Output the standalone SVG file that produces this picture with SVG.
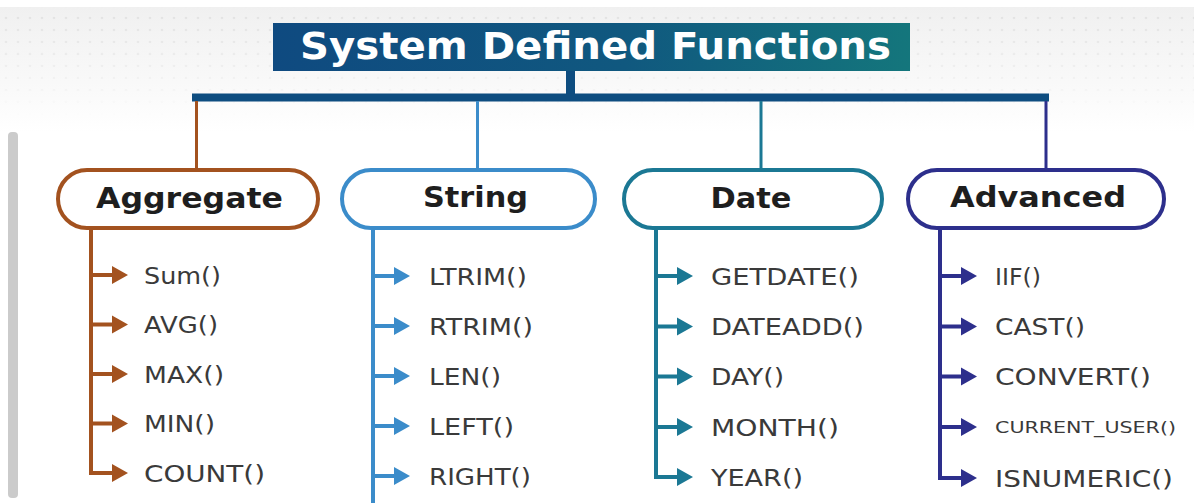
<svg xmlns="http://www.w3.org/2000/svg" width="1194" height="503" viewBox="0 0 1194 503">
  <defs>
    <linearGradient id="titleGrad" x1="0" y1="0" x2="1" y2="0">
      <stop offset="0" stop-color="#0f4a80"/>
      <stop offset="0.55" stop-color="#10587f"/>
      <stop offset="1" stop-color="#14767c"/>
    </linearGradient>
    <linearGradient id="bgGrad" x1="0" y1="0" x2="0" y2="1">
      <stop offset="0" stop-color="#f0f0f0"/>
      <stop offset="1" stop-color="#ffffff"/>
    </linearGradient>
    <pattern id="dots" x="0" y="0" width="12" height="12" patternUnits="userSpaceOnUse">
      <circle cx="6" cy="6" r="1.3" fill="#dcdcdc"/>
    </pattern>
    <linearGradient id="dotFade" x1="0" y1="0" x2="0" y2="1">
      <stop offset="0" stop-color="#fff" stop-opacity="1"/>
      <stop offset="1" stop-color="#fff" stop-opacity="0"/>
    </linearGradient>
    <mask id="dotMask">
      <rect x="0" y="7" width="1194" height="110" fill="url(#dotFade)"/>
    </mask>
  </defs>
  <style>
    .pill { fill: #ffffff; stroke-width: 4; }
    .plabel { font-family: "DejaVu Sans", "Liberation Sans", sans-serif; font-weight: bold; font-size: 29px; fill: #1e1e1e; text-anchor: middle; }
    .item { font-family: "DejaVu Sans", "Liberation Sans", sans-serif; font-size: 23px; fill: #3a3a3a; }
    .small { font-size: 16px; }
    .agg { stroke: #a3521f; fill: #a3521f; }
    .str { stroke: #3b8cca; fill: #3b8cca; }
    .dat { stroke: #1b7894; fill: #1b7894; }
    .adv { stroke: #2d2f8c; fill: #2d2f8c; }
    .line { fill: none; stroke-width: 4; stroke-linejoin: miter; }
    .stem { fill: none; stroke-width: 3; }
    .head { stroke: none; }
  </style>

  <!-- background -->
  <rect x="0" y="0" width="1194" height="503" fill="#ffffff"/>
  <rect x="0" y="7" width="1194" height="125" fill="url(#bgGrad)"/>
  <rect x="0" y="7" width="1194" height="110" fill="url(#dots)" mask="url(#dotMask)" opacity="0.7"/>
  <rect x="8" y="132" width="10" height="366" rx="4" fill="#cbcbcb"/>

  <!-- connectors -->
  <g id="connectors">
    <rect x="566" y="70" width="9" height="26" fill="#0e4d80"/>
    <rect x="192" y="93.5" width="857" height="8" fill="#0e4d80"/>
    <line class="stem agg" x1="196.5" y1="101" x2="196.5" y2="170"/>
    <line class="stem str" x1="477.5" y1="101" x2="477.5" y2="170"/>
    <line class="stem dat" x1="761" y1="101" x2="761" y2="170"/>
    <line class="stem adv" x1="1046" y1="101" x2="1046" y2="170"/>

    <!-- Aggregate -->
    <g class="agg">
      <path class="line" d="M91,228 V473 H114"/>
      <path class="line" d="M91,275 H114 M91,324.5 H114 M91,374 H114 M91,423.5 H114"/>
      <path class="head" d="M112,266 L128,275 L112,284 Z M112,315.5 L128,324.5 L112,333.5 Z M112,365 L128,374 L112,383 Z M112,414.5 L128,423.5 L112,432.5 Z M112,464 L128,473 L112,482 Z"/>
    </g>
    <!-- String -->
    <g class="str">
      <path class="line" d="M373,228 V503"/>
      <path class="line" d="M373,276 H396 M373,326 H396 M373,376 H396 M373,426 H396 M373,476 H396"/>
      <path class="head" d="M394,267 L410,276 L394,285 Z M394,317 L410,326 L394,335 Z M394,367 L410,376 L394,385 Z M394,417 L410,426 L394,435 Z M394,467 L410,476 L394,485 Z"/>
    </g>
    <!-- Date -->
    <g class="dat">
      <path class="line" d="M656,228 V477 H679"/>
      <path class="line" d="M656,276 H679 M656,326.5 H679 M656,376.5 H679 M656,427 H679"/>
      <path class="head" d="M677,267 L693,276 L677,285 Z M677,317.5 L693,326.5 L677,335.5 Z M677,367.5 L693,376.5 L677,385.5 Z M677,418 L693,427 L677,436 Z M677,468 L693,477 L677,486 Z"/>
    </g>
    <!-- Advanced -->
    <g class="adv">
      <path class="line" d="M940,228 V478 H963"/>
      <path class="line" d="M940,276 H963 M940,326.5 H963 M940,376.5 H963 M940,427 H963"/>
      <path class="head" d="M961,267 L977,276 L961,285 Z M961,317.5 L977,326.5 L961,335.5 Z M961,367.5 L977,376.5 L961,385.5 Z M961,418 L977,427 L961,436 Z M961,469 L977,478 L961,487 Z"/>
    </g>
  </g>

  <!-- title -->
  <g id="title">
    <rect x="273" y="23" width="637" height="48" fill="url(#titleGrad)"/>
    <text x="300" y="59" font-family="DejaVu Sans, Liberation Sans, sans-serif" font-weight="bold" font-size="37" fill="#ffffff" textLength="591" lengthAdjust="spacingAndGlyphs">System Defined Functions</text>
  </g>

  <!-- category nodes -->
  <g id="node-aggregate">
    <rect class="pill agg" x="58" y="170" width="260" height="58" rx="29" style="fill:#fff"/>
    <text class="plabel" x="189.5" y="208" textLength="187" lengthAdjust="spacingAndGlyphs">Aggregate</text>
  </g>
  <g id="node-string">
    <rect class="pill str" x="342" y="170" width="253" height="58" rx="29" style="fill:#fff"/>
    <text class="plabel" x="475.5" y="207" textLength="105" lengthAdjust="spacingAndGlyphs">String</text>
  </g>
  <g id="node-date">
    <rect class="pill dat" x="624" y="170" width="258" height="58" rx="29" style="fill:#fff"/>
    <text class="plabel" x="751" y="207.5" textLength="81" lengthAdjust="spacingAndGlyphs">Date</text>
  </g>
  <g id="node-advanced">
    <rect class="pill adv" x="908" y="170" width="256" height="58" rx="29" style="fill:#fff"/>
    <text class="plabel" x="1038" y="207" textLength="176" lengthAdjust="spacingAndGlyphs">Advanced</text>
  </g>

  <!-- function items -->
  <g id="items-aggregate">
    <text class="item" x="144" y="283.5" textLength="77" lengthAdjust="spacingAndGlyphs">Sum()</text>
    <text class="item" x="144" y="333" textLength="74" lengthAdjust="spacingAndGlyphs">AVG()</text>
    <text class="item" x="144" y="382.5" textLength="80" lengthAdjust="spacingAndGlyphs">MAX()</text>
    <text class="item" x="144" y="432" textLength="71" lengthAdjust="spacingAndGlyphs">MIN()</text>
    <text class="item" x="144" y="481.5" textLength="121" lengthAdjust="spacingAndGlyphs">COUNT()</text>
  </g>
  <g id="items-string">
    <text class="item" x="429" y="284.5" textLength="98" lengthAdjust="spacingAndGlyphs">LTRIM()</text>
    <text class="item" x="429" y="334.5" textLength="104" lengthAdjust="spacingAndGlyphs">RTRIM()</text>
    <text class="item" x="429" y="384.5" textLength="72" lengthAdjust="spacingAndGlyphs">LEN()</text>
    <text class="item" x="429" y="434.5" textLength="85" lengthAdjust="spacingAndGlyphs">LEFT()</text>
    <text class="item" x="429" y="484.5" textLength="102" lengthAdjust="spacingAndGlyphs">RIGHT()</text>
  </g>
  <g id="items-date">
    <text class="item" x="711" y="284.5" textLength="148" lengthAdjust="spacingAndGlyphs">GETDATE()</text>
    <text class="item" x="711" y="335" textLength="153" lengthAdjust="spacingAndGlyphs">DATEADD()</text>
    <text class="item" x="711" y="385" textLength="73" lengthAdjust="spacingAndGlyphs">DAY()</text>
    <text class="item" x="711" y="435.5" textLength="128" lengthAdjust="spacingAndGlyphs">MONTH()</text>
    <text class="item" x="711" y="485.5" textLength="92" lengthAdjust="spacingAndGlyphs">YEAR()</text>
  </g>
  <g id="items-advanced">
    <text class="item" x="995" y="284.5" textLength="46" lengthAdjust="spacingAndGlyphs">IIF()</text>
    <text class="item" x="995" y="335" textLength="90" lengthAdjust="spacingAndGlyphs">CAST()</text>
    <text class="item" x="995" y="385" textLength="156" lengthAdjust="spacingAndGlyphs">CONVERT()</text>
    <text class="item small" x="995" y="432.5" textLength="181" lengthAdjust="spacingAndGlyphs">CURRENT_USER()</text>
    <text class="item" x="995" y="486.5" textLength="178" lengthAdjust="spacingAndGlyphs">ISNUMERIC()</text>
  </g>
</svg>
